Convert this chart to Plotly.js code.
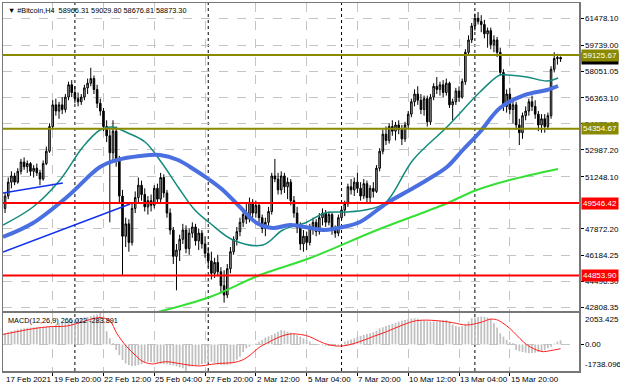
<!DOCTYPE html>
<html><head><meta charset="utf-8">
<script src="https://cdn.plot.ly/plotly-3.0.1.min.js"></script>
<style>html,body{margin:0;padding:0;background:#fff;}#chart{width:620px;height:388px;}</style>
</head><body><div id="chart"></div>
<script>
const header = '#Bitcoin,H4  58966.31 59029.80 58676.81 58873.30';
const macdTitle = 'MACD(12,26,9) 266.022 -283.891';
const firstBar = 2;
const open = [49200,50000,50900,51300,50900,51600,52200,51900,52100,51600,
51800,51500,51100,52100,52900,54500,55900,55500,55900,55600,
56400,57200,56700,56300,56100,56400,57000,57300,57600,56900,
56000,55500,54500,53900,52800,54200,52300,50000,47400,48200,
47000,49200,49900,50700,50100,49300,49700,49400,50500,49800,
51200,50200,48900,47800,46100,46500,47200,47800,46600,47600,
48000,47100,47600,46900,46300,45800,45000,45700,45100,44200,
43600,45300,46400,47200,47700,48300,48800,48500,49600,48900,
49400,48600,47900,48300,49000,51300,51100,50400,51300,50600,
50900,49700,48900,48000,46900,47400,47000,48000,48300,47700,
48600,48900,48300,48800,47800,47600,48600,49100,49500,50600,
50400,50900,50500,50000,50800,49900,50500,50300,51800,52900,
54000,53600,54500,54200,54600,54300,53700,54600,55300,56100,
56600,56200,55600,56300,54800,56400,57100,56900,57200,56700,
57300,55900,56100,56800,56400,57400,59300,60100,61000,61500,
61300,61100,60500,60700,59800,60100,59300,58000,55800,56600,
55600,55900,54600,54100,55200,55500,56100,55800,55300,54600,
55000,54500,55200,58200,58900,58966.31];
const high = [50200,51200,51600,51500,51800,52400,52500,52300,52200,52000,
52100,51700,52300,53200,54700,56200,56300,56100,56400,56600,
57400,57500,57100,56700,56600,57200,57600,58300,57800,57200,
56300,55700,54900,54300,54900,54500,52600,50400,48600,48500,
49500,50300,51200,51000,50500,50000,50100,50700,50800,51500,
51400,50400,49200,48000,46900,47500,48200,48100,47900,48300,
48200,47900,47800,47400,46700,46400,46000,46200,45400,45200,
45600,46700,47400,48000,48600,49200,49500,49900,49800,49700,
49600,48800,48600,49300,51500,52400,51500,51600,51500,51200,
51100,50000,49300,48300,47800,47700,48200,48600,48500,48900,
49200,49100,49000,48900,48100,48800,49300,49700,50800,51100,
51200,51500,50900,51100,51000,50700,50900,52000,53100,54300,
54500,54700,54900,54800,54900,54600,54800,55500,56300,56900,
57100,56600,56500,56500,56600,57300,57700,57400,57500,57600,
57400,56300,57000,57100,57600,59500,60400,61200,61800,61900,
61700,61400,60900,60900,60400,60300,59600,58200,56900,57000,
56200,56100,55000,55400,55800,56300,56500,56200,55500,55300,
55300,55400,58400,59300,59200,59029.80];
const low = [48900,49800,50500,50700,50800,51400,51700,51500,51300,51200,
51300,50700,51000,52000,52800,54300,55200,55000,55300,55400,
56200,56400,56000,55800,55900,56200,56600,57100,56600,55700,
55200,54200,53500,48300,52300,51900,49600,44900,46700,46400,
46800,48900,49600,49700,49000,48800,49000,49200,49500,49600,
49900,48600,47500,45600,43900,45800,46900,46300,46200,47300,
46800,46500,46600,46000,45400,44600,44700,44800,43700,43100,
43400,45000,46200,46800,47400,48000,48200,48300,48600,48600,
48300,47600,47400,48000,48800,50900,50100,50100,50200,49800,
49400,48600,47600,46500,46400,46500,46800,47500,47400,47500,
48100,48000,48100,47500,47300,47400,48400,48700,49300,50100,
50000,50200,49700,49800,49600,49500,49900,50200,51600,52700,
53300,53400,53900,53600,54000,53300,53500,54400,55100,55800,
55900,55300,55200,54500,54600,56200,56600,56500,56400,56500,
55700,54900,55900,56100,56300,57200,59100,59900,60700,61100,
60600,60200,59600,59500,59300,59000,57800,55500,55400,55300,
54700,54300,53300,53700,54900,55200,55500,55000,54200,54100,
54100,54300,55000,58000,58500,58676.81];
const close = [50000,50900,51300,50900,51600,52200,51900,52100,51600,51800,
51500,51100,52100,52900,54500,55900,55500,55900,55600,56400,
57200,56700,56300,56100,56400,57000,57300,57600,56900,56000,
55500,54500,53900,52800,54200,52300,50000,47400,48200,47000,
49200,49900,50700,50100,49300,49700,49400,50500,49800,51200,
50200,48900,47800,46100,46500,47200,47800,46600,47600,48000,
47100,47600,46900,46300,45800,45000,45700,45100,44200,43600,
45300,46400,47200,47700,48300,48800,48500,49600,48900,49400,
48600,47900,48300,49000,51300,51100,50400,51300,50600,50900,
49700,48900,48000,46900,47400,47000,48000,48300,47700,48600,
48900,48300,48800,47800,47600,48600,49100,49500,50600,50400,
50900,50500,50000,50800,49900,50500,50300,51800,52900,54000,
53600,54500,54200,54600,54300,53700,54600,55300,56100,56600,
56200,55600,56300,54800,56400,57100,56900,57200,56700,57300,
55900,56100,56800,56400,57400,59300,60100,61000,61500,61300,
61100,60500,60700,59800,60100,59300,58000,55800,56600,55600,
55900,54600,54100,55200,55500,56100,55800,55300,54600,55000,
54500,55200,58200,58900,58966.31,58873.30];

const xRange = [1.35, 182.8];
const firstDateLabel = '17 Feb 2021';
const timeTickBars = [17,33,49,65,81,97,113,129,145,161];
const timeTickLabels = ['19 Feb 20:00','22 Feb 12:00','25 Feb 04:00','27 Feb 20:00','2 Mar 12:00','5 Mar 04:00','7 Mar 20:00','10 Mar 12:00','13 Mar 04:00','15 Mar 20:00'];
const weekSeparators = [24,66,108,150];
const priceTicks = [61478.10,59739.00,58051.05,56363.10,54675.15,52987.20,51248.10,47872.20,46184.25,44496.30,42808.35];
const hiddenGridLevel = 49560.15;
const priceRange = [42562.5, 62490];

const maFastX = [1.35,10.8,19.3,26.5,31.9,35.7,40.7,46.1,51.4,56.5,61.8,66.5,73.8,83.2,89.5,96.5,102.8,109.1,115.4,121.7,130.5,141.2,151.6,157.9,160.4,166.4,172.7,176.2];
const maFastY = [48126,49291,51038,53173,54273,54467,54079,53496,52138,50585,49097,48256,47156,46832,47803,48256,48903,48968,49097,49550,52332,54467,56732,57832,57832,57702,57443,57637];
const maMidX = [1.35,10.8,21.5,31.9,37.3,44.5,50.8,56.5,61.8,66.5,70.6,76,81.3,86.4,91.7,96.5,102.8,108.4,113.8,122.3,129.5,134.9,141.2,146.2,151.6,157.9,165.8,172.7,176.2];
const maMidY = [47350,48256,49938,51879,52332,52591,52656,52332,51685,51038,50391,49291,48256,47932,48126,47997,47803,47997,48321,49550,50391,51038,51879,52979,54143,55696,56538,56861,57120];
const maSlowX = [47.6,66.5,82.3,98.1,119.2,139.9,150.6,161,176.2];
const maSlowY = [42368,43468,44892,45992,47803,49420,50391,51038,51750];

const trend1X = [1.35, 20.2], trend1Y = [50197, 50844];
const trend2X = [1.35, 41.4], trend2Y = [46380, 49485];

const oliveLevels = [59125.67, 54354.67];
const redLevels = [49546.42, 44853.90];
const currentPrice = 58873.30;

const macdStart = 1;
const macdHist = [700,750,800,870,930,980,1020,1060,1090,1110,
1120,1130,1140,1150,1160,1170,1200,1280,1380,1450,
1490,1540,1600,1650,1690,1720,1760,1800,1850,1900,
1960,2053,1600,870,400,70,-366,-700,-1020,-1250,
-1350,-1410,-1400,-1345,-1280,-1200,-1128,-1150,-1200,-1235,
-1260,-1290,-1320,-1345,-1380,-1430,-1500,-1563,-1738,-1454,
-1420,-1380,-1345,-1300,-1250,-1180,-1128,-1200,-1300,-1345,
-1345,-1345,-1300,-1200,-1000,-800,-500,-257,-150,-40,
60,180,300,450,530,616,720,830,943,900,
834,760,700,600,506,400,300,180,50,-40,
-40,-60,-80,-100,-100,-90,-80,-40,180,250,
320,400,506,560,620,680,724,800,900,1050,
1120,1200,1270,1330,1400,1490,1550,1600,1650,1700,
1710,1680,1600,1560,1520,1490,1500,1520,1550,1580,
1600,1500,1300,1200,1160,1200,1270,1500,1710,1760,
1800,1820,1800,1760,1700,1380,1100,724,506,300,
150,70,-366,-450,-500,-540,-580,-560,-540,-500,
-450,-366,-250,-150,50,180,266];
const signalX = [0.4,5,10.9,16,21.4,26,30,32,35,37.2,40.3,43,45.5,48.7,50.5,52.9,56,60,63.4,67,70,73.9,77,79.5,82,84.4,88,91.7,95,98,101,104.3,108.5,113.7,118,122.2,127,131.7,138,143,147.5,152,154.7,156.8,158.9,161,163.1,165.2,167.3,169.5,171.6,173.7,177];
const signalY = [616,800,1030,1160,1200,1450,1700,1760,1550,724,-146,-700,-1128,-1280,-1200,-1128,-1220,-1350,-1410,-1300,-1235,-1190,-1000,-650,-200,70,450,680,650,506,200,-40,-100,180,520,834,1250,1555,1555,1420,1270,1450,1640,1620,1380,1050,616,180,-150,-366,-476,-410,-284];
const macdMax = 2053.425, macdMin = -1738.096;

const FONT = 'Liberation Sans, Arial, sans-serif';
const barX = close.map((_, i) => i + firstBar);
const histX = macdHist.map((_, i) => i + macdStart);

const traces = [
  {type:'candlestick', x:barX, open:open, high:high, low:low, close:close,
   xaxis:'x2', yaxis:'y', whiskerwidth:0,
   increasing:{line:{color:'#000', width:1}, fillcolor:'#b4b4b4'},
   decreasing:{line:{color:'#000', width:1}, fillcolor:'#000'},
   hoverinfo:'skip', showlegend:false},
  {type:'scatter', mode:'lines', x:maSlowX, y:maSlowY, xaxis:'x2', yaxis:'y',
   line:{color:'#35e035', width:2, shape:'spline'}, hoverinfo:'skip'},
  {type:'scatter', mode:'lines', x:maFastX, y:maFastY, xaxis:'x2', yaxis:'y',
   line:{color:'#138a7c', width:1.5, shape:'spline'}, hoverinfo:'skip'},
  {type:'scatter', mode:'lines', x:maMidX, y:maMidY, xaxis:'x2', yaxis:'y',
   line:{color:'#4a6fe0', width:4, shape:'spline'}, hoverinfo:'skip'},
  {type:'scatter', mode:'lines', x:trend1X, y:trend1Y, xaxis:'x2', yaxis:'y',
   line:{color:'#1030f0', width:1.5}, hoverinfo:'skip'},
  {type:'scatter', mode:'lines', x:trend2X, y:trend2Y, xaxis:'x2', yaxis:'y',
   line:{color:'#1030f0', width:1.5}, hoverinfo:'skip'},
  {type:'bar', x:histX, y:macdHist, xaxis:'x', yaxis:'y2', width:0.55,
   marker:{color:'#c0c0c0', line:{width:0}}, hoverinfo:'skip'},
  {type:'scatter', mode:'lines', x:signalX, y:signalY, xaxis:'x', yaxis:'y2',
   line:{color:'#ff2020', width:1, shape:'spline'}, hoverinfo:'skip'}
];

const shapes = [];
shapes.push({type:'line', xref:'x domain', yref:'y', x0:0, x1:1, y0:hiddenGridLevel, y1:hiddenGridLevel,
  line:{color:'#c4c4c4', width:1, dash:'dash'}, layer:'below'});
weekSeparators.forEach(b => shapes.push({type:'line', xref:'x', yref:'paper', x0:b, x1:b, y0:0, y1:1,
  line:{color:'#000', width:1, dash:'dot'}, layer:'below'}));
oliveLevels.forEach(v => shapes.push({type:'line', xref:'x domain', yref:'y', x0:0, x1:1, y0:v, y1:v,
  line:{color:'#8a8a00', width:2}}));
redLevels.forEach(v => shapes.push({type:'line', xref:'x domain', yref:'y', x0:0, x1:1, y0:v, y1:v,
  line:{color:'#ff0000', width:2}}));

const annotations = [];
annotations.push({xref:'paper', yref:'paper', x:0, y:1, xanchor:'left', yanchor:'top', xshift:3, yshift:-1,
  text:'▼ ' + header, showarrow:false, font:{family:FONT, size:7.3, color:'#000'}});
annotations.push({xref:'paper', yref:'y2 domain', x:0, y:1, xanchor:'left', yanchor:'top', xshift:3, yshift:-1,
  text:macdTitle, showarrow:false, font:{family:FONT, size:7.3, color:'#000'}});
annotations.push({xref:'x', yref:'paper', x:xRange[0], y:0, xanchor:'left', yanchor:'top', yshift:-2, xshift:1,
  text:firstDateLabel, showarrow:false, font:{family:FONT, size:8, color:'#000'}});
timeTickBars.forEach((b, k) => annotations.push({xref:'x', yref:'paper', x:b, y:0, xanchor:'left', yanchor:'top', yshift:-2, xshift:-1,
  text:timeTickLabels[k], showarrow:false, font:{family:FONT, size:8, color:'#000'}}));
annotations.push({xref:'paper', yref:'y', x:1, y:currentPrice, xanchor:'left', yanchor:'middle', xshift:2,
  text:currentPrice.toFixed(2), showarrow:false, bgcolor:'#000', borderpad:1, font:{family:FONT, size:8, color:'#fff'}});
oliveLevels.forEach(v => annotations.push({xref:'paper', yref:'y', x:1, y:v, xanchor:'left', yanchor:'middle', xshift:2,
  text:v.toFixed(2), showarrow:false, bgcolor:'#8a8a00', borderpad:1, font:{family:FONT, size:8, color:'#fff'}}));
redLevels.forEach(v => annotations.push({xref:'paper', yref:'y', x:1, y:v, xanchor:'left', yanchor:'middle', xshift:2,
  text:v.toFixed(2), showarrow:false, bgcolor:'#ff0000', borderpad:1, font:{family:FONT, size:8, color:'#fff'}}));
annotations.push({xref:'paper', yref:'y2', x:1, y:macdMax, xanchor:'left', yanchor:'top', xshift:4,
  text:macdMax.toFixed(3), showarrow:false, font:{family:FONT, size:8, color:'#000'}});
annotations.push({xref:'paper', yref:'y2', x:1, y:macdMin, xanchor:'left', yanchor:'bottom', xshift:4,
  text:macdMin.toFixed(3), showarrow:false, font:{family:FONT, size:8, color:'#000'}});

const gridStyle = {showgrid:true, gridcolor:'#c4c4c4', griddash:'dash', gridwidth:1};
const lineStyle = {showline:true, mirror:true, linecolor:'#777', linewidth:1.5, zeroline:false};

const layout = {
  width:620, height:388, margin:{l:3, r:41, t:3, b:17},
  paper_bgcolor:'#fff', plot_bgcolor:'#fff', showlegend:false, hovermode:false,
  font:{family:FONT, size:8, color:'#000'},
  xaxis:Object.assign({domain:[0,1], anchor:'y2', range:xRange, tickmode:'array', tickvals:timeTickBars,
    ticktext:timeTickBars.map(()=>''), ticks:'outside', ticklen:3, tickcolor:'#000', fixedrange:true}, gridStyle, lineStyle),
  xaxis2:Object.assign({anchor:'y', matches:'x', range:xRange, tickmode:'array', tickvals:timeTickBars,
    showticklabels:false, ticks:'', rangeslider:{visible:false}, fixedrange:true}, gridStyle, lineStyle),
  yaxis:Object.assign({domain:[0.16304,1], anchor:'x2', side:'right', range:priceRange, tickmode:'array',
    tickvals:priceTicks, ticktext:priceTicks.map(v=>v.toFixed(2)), ticks:'outside', ticklen:3, tickcolor:'#000',
    tickfont:{family:FONT, size:8, color:'#000'}, fixedrange:true}, gridStyle, lineStyle),
  yaxis2:Object.assign({domain:[0,0.1576], anchor:'x', side:'right', range:[macdMin, macdMax], tickmode:'array',
    tickvals:[0], ticktext:['0.00'], ticks:'outside', ticklen:3, tickcolor:'#000',
    tickfont:{family:FONT, size:8, color:'#000'}, fixedrange:true}, gridStyle, lineStyle),
  shapes:shapes, annotations:annotations
};

Plotly.newPlot('chart', traces, layout, {displayModeBar:false, staticPlot:true});
</script></body></html>
